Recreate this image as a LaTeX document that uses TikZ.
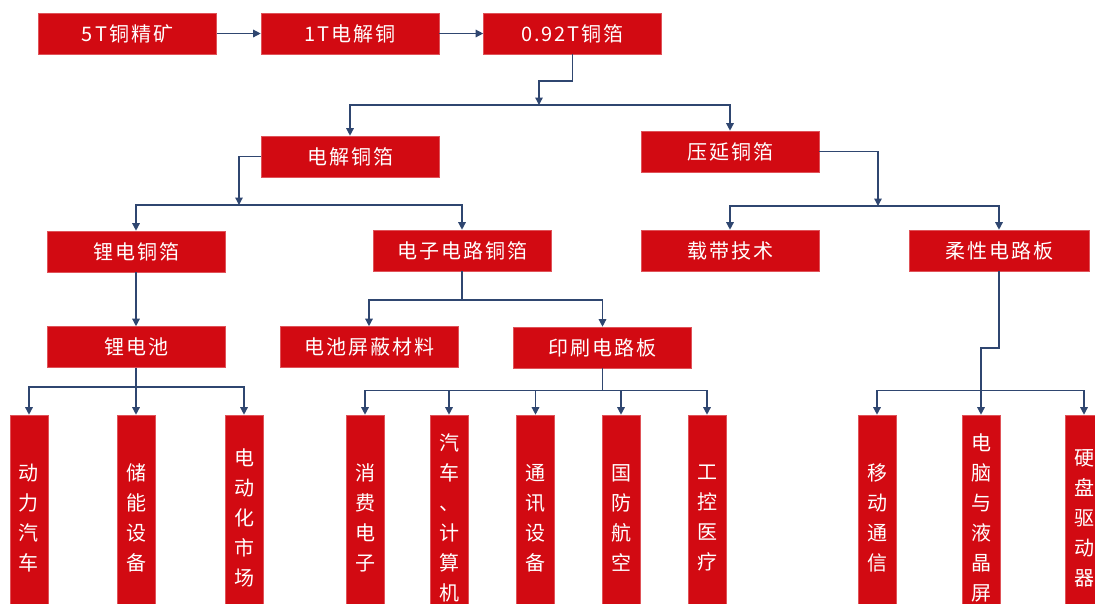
\documentclass[tikz,border=0pt]{standalone}
\usepackage{fontspec}
\setmainfont{Noto Sans CJK SC}
\newfontfamily\boxfont[LetterSpace=10]{Noto Sans CJK SC}
\usetikzlibrary{arrows.meta}
\definecolor{boxred}{RGB}{210,10,18}
\definecolor{linkc}{RGB}{47,70,112}
\tikzset{
  hbox/.style={fill=boxred, draw=boxred!70!white, line width=0.6pt, text=white, inner sep=0pt,
    minimum width=178pt, minimum height=41pt, font=\boxfont\fontsize{20}{22}\selectfont},
  vbox/.style={fill=boxred, draw=boxred!70!white, line width=0.6pt, text=white, inner sep=0pt,
    minimum width=38pt, minimum height=206pt, align=center, font=\boxfont\fontsize{20}{30}\selectfont},
  link/.style={draw=linkc, line width=1.3pt},
  arr/.style={link, -{Triangle[length=7.5pt,width=7.5pt]}}
}
\begin{document}
\begin{tikzpicture}[x=1pt,y=-1pt]
\useasboundingbox (0,0) rectangle (1095,603);
\clip (0,0) rectangle (1095,603);
\fill[white] (0,0) rectangle (1095,603);
% top row
\node[hbox] (a) at (127.5,33.5) {5T铜精矿};
\node[hbox] (b) at (350,33.5) {1T电解铜};
\node[hbox] (c) at (572.5,33.5) {0.92T铜箔};
% second level
\node[hbox] (d) at (350,156.5) {电解铜箔};
\node[hbox] (e) at (730,151.5) {压延铜箔};
% third level
\node[hbox] (f) at (136,251.5) {锂电铜箔};
\node[hbox] (g) at (462,250.5) {电子电路铜箔};
\node[hbox] (h) at (730,250.5) {载带技术};
\node[hbox, minimum width=180pt] (i) at (999,250.5) {柔性电路板};
% fourth level
\node[hbox] (j) at (136,347) {锂电池};
\node[hbox] (k) at (369,347) {电池屏蔽材料};
\node[hbox] (l) at (602.5,347.5) {印刷电路板};
% bottom
\node[vbox] (b1) at (29,518) {动\\力\\汽\\车};
\node[vbox] (b2) at (136,518) {储\\能\\设\\备};
\node[vbox] (b3) at (244,518) {电\\动\\化\\市\\场};
\node[vbox] (b4) at (365,518) {消\\费\\电\\子};
\node[vbox] (b5) at (449,518) {汽\\车\\、\\计\\算\\机};
\node[vbox] (b6) at (535.5,518) {通\\讯\\设\\备};
\node[vbox] (b7) at (621,518) {国\\防\\航\\空};
\node[vbox] (b8) at (707,518) {工\\控\\医\\疗};
\node[vbox] (b9) at (877,518) {移\\动\\通\\信};
\node[vbox] (b10) at (981,518) {电\\脑\\与\\液\\晶\\屏};
\node[vbox] (b11) at (1084,518) {硬\\盘\\驱\\动\\器};
% junction points
\coordinate (j1) at (539,105);
\coordinate (j2) at (239,205);
\coordinate (j3) at (878,206);
\coordinate (j4) at (462,300);
\coordinate (j5) at (981,390.5);
\coordinate (j6) at (136,387);
\coordinate (j7) at (602.5,390.5);
% connectors
\draw[arr] (a.east) -- (b.west);
\draw[arr] (b.east) -- (c.west);
\draw[arr] (c.south) |- (539,81) -- (j1);
\draw[arr] (j1) -| (d.north);
\draw[arr] (j1) -| (e.north);
\draw[arr] (d.west) -| (j2);
\draw[arr] (j2) -| (f.north);
\draw[arr] (j2) -| (g.north);
\draw[arr] (e.east) -| (j3);
\draw[arr] (j3) -| (h.north);
\draw[arr] (j3) -| (i.north);
\draw[arr] (f.south) -- (j.north);
\draw[link] (g.south) -- (j4);
\draw[arr] (j4) -| (k.north);
\draw[arr] (j4) -| (l.north);
\draw[link] (i.south) |- (981,348) -- (j5);
\draw[arr] (j5) -| (b9.north);
\draw[arr] (j5) -- (b10.north);
\draw[arr] (j5) -| (b11.north);
\draw[link] (j.south) -- (j6);
\draw[arr] (j6) -| (b1.north);
\draw[arr] (j6) -- (b2.north);
\draw[arr] (j6) -| (b3.north);
\draw[link] (l.south) -- (j7);
\draw[arr] (j7) -| (b4.north);
\draw[arr] (j7) -| (b5.north);
\draw[arr] (j7) -| (b6.north);
\draw[arr] (j7) -| (b7.north);
\draw[arr] (j7) -| (b8.north);
\end{tikzpicture}
\end{document}
